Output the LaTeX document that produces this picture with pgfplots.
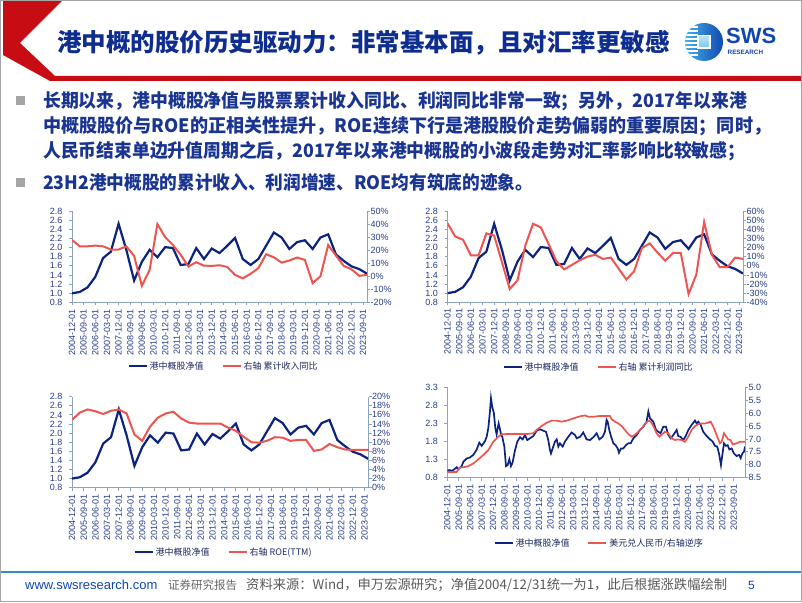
\documentclass[border=0pt]{standalone}
\usepackage{fontspec}
\setmainfont{Liberation Sans}
\newfontfamily\cjk{Noto Sans CJK SC}
\usepackage{graphicx}
\usepackage{pgfplots}
\pgfplotsset{compat=1.18}
\usepackage{pgfplotstable}

\definecolor{navy}{RGB}{12,36,128}
\definecolor{lred}{RGB}{238,84,80}
\definecolor{tickblue}{RGB}{40,62,135}
\definecolor{axgray}{RGB}{140,165,190}
\definecolor{titleblue}{RGB}{14,45,145}
\definecolor{textblue}{RGB}{25,52,145}
\definecolor{bandred}{RGB}{200,12,20}
\definecolor{legtext}{RGB}{30,40,95}
\definecolor{logoA}{RGB}{70,180,235}
\definecolor{logoB}{RGB}{15,70,175}
\definecolor{footblue}{RGB}{50,140,200}
\definecolor{bulgray}{RGB}{165,165,165}

\pgfplotstableread{
m nv rev prof roe
0 1.00 27.8 46.5 14.9
6 1.03 23.0 32 16.5
12 1.13 23.0 28.5 17.2
18 1.36 23.5 11.5 16.8
24 1.77 23.0 11.5 16.2
30 1.91 20.5 35.5 16.9
36 2.52 20.5 33 17.2
42 1.95 23.0 4 16.3
48 1.28 15.6 -25.5 11.7
54 1.69 -7.3 -16 10.3
60 1.95 4.9 22 13.4
66 1.79 40.0 46 15.4
72 2.01 30.0 42 16.3
78 1.99 24.0 24 16.7
84 1.62 16.4 5 15.2
90 1.64 7.5 -4 14.3
96 1.99 10.8 1 14.1
102 1.75 8.2 6 14.1
108 1.98 8.0 10 14.1
114 1.88 8.5 12 14.1
120 2.04 7.2 7.5 13.2
126 2.21 1.1 9 12.5
132 1.75 -1.5 -3 11.2
138 1.62 1.9 -15 10.0
144 1.75 6.2 -6 9.9
150 2.04 16.9 19.5 10.3
156 2.33 14.6 24.5 11.1
162 2.22 10.5 14.5 11.0
168 1.97 12.1 5.5 10.3
174 2.12 14.4 14 10.5
180 2.16 12.6 14 10.5
186 1.97 -5.2 -31 8.1
192 2.22 0.0 -9.5 8.4
198 2.29 24.0 48 9.6
204 1.85 15.9 12 8.9
210 1.71 8.0 -1.5 8.4
216 1.59 5.4 -1.5 8.3
222 1.53 0.4 9 8.3
228 1.43 1.1 7.5 8.3
}\semi

\pgfplotstableread{
m v
0 1.00
2 1.01
3.4 0.99
5 1.02
7.3 1.09
8.6 1.03
11.3 1.12
12.6 1.24
15.2 1.33
17.8 1.36
20.4 1.43
23.0 1.57
25.1 1.77
27.0 1.68
29.6 1.81
30.9 1.93
32.2 2.17
33.5 2.63
34.3 3.00
35.3 2.76
36.6 2.58
37.7 2.17
38.7 2.00
40.3 2.30
41.4 2.14
42.1 2.01
43.2 1.93
44.8 1.66
46.1 1.12
47.4 1.15
48.7 1.31
50.0 1.12
51.3 1.22
53.1 1.55
55.0 1.80
57.1 1.92
59.2 1.86
61.0 1.98
62.8 1.84
64.9 1.89
67.5 1.95
70.2 2.10
72.8 2.14
75.4 2.10
77.5 2.07
79.3 1.84
80.6 1.57
81.4 1.47
83.2 1.66
84.6 1.80
85.9 1.86
87.2 1.66
88.5 1.75
90.6 1.66
92.4 1.80
95.0 1.93
97.6 2.05
100.3 1.98
101.6 1.89
104.2 1.93
106.8 2.05
109.4 1.86
112.0 1.84
114.7 1.92
117.3 2.03
119.4 1.86
122.0 1.93
123.8 2.07
125.1 2.40
125.9 2.35
127.2 2.12
128.5 1.95
130.4 1.75
132.2 1.70
133.8 1.61
134.8 1.49
136.4 1.61
138.2 1.61
140.3 1.70
142.1 1.75
144.0 1.75
146.1 1.89
148.7 1.98
151.3 2.12
153.9 2.21
156.5 2.35
157.9 2.63
159.2 2.44
161.8 2.35
163.9 2.12
165.7 2.07
167.5 2.03
169.6 2.21
171.7 2.21
173.6 1.98
175.4 1.89
177.5 1.98
180.1 2.12
181.4 1.95
183.2 1.93
185.3 1.84
187.2 1.95
189.3 2.12
191.9 2.26
194.5 2.38
195.8 2.30
197.1 2.35
199.0 2.26
201.0 2.07
203.7 1.95
206.3 1.86
208.4 1.80
210.2 1.68
212.0 1.66
213.6 1.43
214.9 1.15
216.0 1.43
217.3 1.75
218.8 1.68
220.2 1.70
221.5 1.58
223.3 1.61
225.1 1.47
227.2 1.40
229.1 1.43
230.4 1.34
231.7 1.47
233.0 1.52
233.8 1.66
}\hkdaily

\pgfplotstableread{
m r
0 8.28
7.3 8.28
8.6 8.18
9.9 8.10
12.6 8.10
16.5 8.05
20.4 7.95
24.3 7.79
28.3 7.62
32.2 7.43
36.1 7.11
40.1 6.91
42.7 6.82
46.6 6.81
54.5 6.81
62.3 6.81
67.5 6.78
70.2 6.65
74.1 6.50
78.0 6.37
81.9 6.29
85.9 6.29
89.8 6.33
93.7 6.29
97.6 6.23
101.6 6.16
105.5 6.11
108.1 6.09
110.7 6.14
114.7 6.14
119.9 6.11
125.1 6.11
127.7 6.11
129.1 6.24
131.7 6.33
134.3 6.40
136.9 6.50
139.5 6.65
142.1 6.81
144.8 6.91
147.4 6.84
150.0 6.72
152.6 6.59
155.2 6.42
157.9 6.29
159.7 6.33
161.8 6.50
164.4 6.78
166.5 6.91
168.3 6.84
170.9 6.72
173.6 6.78
176.2 6.98
178.8 7.04
181.4 7.02
184.0 7.04
186.6 7.11
189.3 6.91
191.9 6.65
194.5 6.50
197.1 6.43
199.7 6.40
202.4 6.40
205.0 6.36
206.8 6.33
208.9 6.52
211.5 6.85
214.1 7.17
215.4 7.11
217.3 6.78
218.8 6.89
220.7 7.02
222.5 7.04
224.1 7.21
227.2 7.17
229.8 7.11
233.8 7.11
}\usdcny

\pgfplotsset{
  myax/.style={scale only axis, anchor=south west,
    axis line style={axgray, line width=0.8pt},
    tick style={axgray, line width=0.8pt},
    major tick length=3pt, tick align=outside,
    tick label style={font=\fontsize{9}{9}\selectfont, text=tickblue},
    /pgf/number format/assume math mode=true},
  leftax/.style={myax, axis x line*=bottom, axis y line*=left,
    xtick={0,9,...,225},
    xticklabels={2004-12-01,2005-09-01,2006-06-01,2007-03-01,2007-12-01,2008-09-01,2009-06-01,2010-03-01,2010-12-01,2011-09-01,2012-06-01,2013-03-01,2013-12-01,2014-09-01,2015-06-01,2016-03-01,2016-12-01,2017-09-01,2018-06-01,2019-03-01,2019-12-01,2020-09-01,2021-06-01,2022-03-01,2022-12-01,2023-09-01},
    xticklabel style={rotate=90, anchor=east},
    yticklabel style={xshift=-3pt, /pgf/number format/fixed, /pgf/number format/fixed zerofill, /pgf/number format/precision=1}},
  rightax/.style={myax, axis x line=none, axis y line*=right,
    yticklabel style={xshift=-3pt},
    legend style={draw=none, fill=none, anchor=center, legend columns=2,
      font=\cjk\fontsize{9}{9}\selectfont, text=legtext,
      /tikz/every even column/.append style={column sep=16pt}},
    legend image code/.code={\draw[##1] (0pt,0pt) -- (18pt,0pt);}},
  pct/.style={yticklabel={\pgfmathprintnumber{\tick}\%}},
}

\begin{document}
\begin{tikzpicture}[x=1pt,y=1pt]
\path[use as bounding box, fill=white] (0,0) rectangle (802,602);

% header
\fill[bandred] (3,602) -- (63,602) -- (20,559) -- (55,526) -- (802,526) -- (802,521) -- (50,521) -- (3,547) -- cycle;
\node[anchor=west, inner sep=0, text=titleblue, font=\cjk\bfseries\fontsize{24.5}{24.5}\selectfont] at (57,559) {港中概的股价历史驱动力：非常基本面，且对汇率更敏感};

% logo
\begin{scope}
\clip (704,560) circle (19);
\shade[left color=logoA, right color=logoB] (684,540) rectangle (724,580);
\foreach \yy in {-13,-9,-5,-1,3,7,11,15} \draw[white, line width=1.1pt] (684,560+\yy) -- (698,560+\yy);
\end{scope}
\fill[white] (697,553) rectangle (711,567);
\shade[top color=logoA!40, bottom color=logoA!70] (699,555) rectangle (709,565);
\node[anchor=west, inner sep=0, text=logoB, font=\bfseries\fontsize{22}{22}\selectfont] at (726,566) {SWS};
\node[anchor=west, inner sep=0, text=logoB, font=\bfseries\fontsize{6.3}{6.3}\selectfont] at (727.5,549.5) {RESEARCH};

% bullets
\fill[bulgray] (15.5,496.5) rectangle (24.5,505.5);
\fill[bulgray] (15.5,414.5) rectangle (24.5,423.5);
\begin{scope}[every node/.style={anchor=west, inner sep=0, text=textblue, font=\cjk\bfseries\fontsize{18.5}{18.5}\selectfont}]
\node at (43,501) {\resizebox{704pt}{\height}{长期以来，港中概股净值与股票累计收入同比、利润同比非常一致；另外，2017年以来港}};
\node at (43,476) {\resizebox{728pt}{\height}{中概股股价与ROE的正相关性提升，ROE连续下行是港股股价走势偏弱的重要原因；同时，}};
\node at (43,451) {\resizebox{702pt}{\height}{人民币结束单边升值周期之后，2017年以来港中概股的小波段走势对汇率影响比较敏感；}};
\node at (43,420) {\resizebox{490pt}{\height}{23H2港中概股的累计收入、利润增速、ROE均有筑底的迹象。}};
\end{scope}

% chart 1
\begin{axis}[leftax, at={(72pt,299.5pt)}, width=295pt, height=91.5pt,
  xmin=0, xmax=228, ymin=0.8, ymax=2.8, ytick={0.8,1,1.2,1.4,1.6,1.8,2,2.2,2.4,2.6,2.8}]
\addplot[navy, line width=2.2pt] table[x=m, y=nv] {\semi};
\end{axis}
\begin{axis}[rightax, pct, at={(72pt,299.5pt)}, width=295pt, height=91.5pt,
  xmin=0, xmax=228, ymin=-20, ymax=50, ytick={-20,-10,0,10,20,30,40,50},
  legend style={at={(0.514,-0.694)}}]
\addlegendimage{navy, line width=2.2pt}
\addlegendentry{港中概股净值}
\addplot[lred, line width=2pt] table[x=m, y=rev] {\semi};
\addlegendentry{右轴\ 累计收入同比}
\end{axis}

% chart 2
\begin{axis}[leftax, at={(447.5pt,299.7pt)}, width=295.5pt, height=91.3pt,
  xmin=0, xmax=228, ymin=0.8, ymax=2.8, ytick={0.8,1,1.2,1.4,1.6,1.8,2,2.2,2.4,2.6,2.8}]
\addplot[navy, line width=2.2pt] table[x=m, y=nv] {\semi};
\end{axis}
\begin{axis}[rightax, pct, at={(447.5pt,299.7pt)}, width=295.5pt, height=91.3pt,
  xmin=0, xmax=228, ymin=-40, ymax=60, ytick={-40,-30,-20,-10,0,10,20,30,40,50,60},
  legend style={at={(0.511,-0.709)}}]
\addlegendimage{navy, line width=2.2pt}
\addlegendentry{港中概股净值}
\addplot[lred, line width=2pt] table[x=m, y=prof] {\semi};
\addlegendentry{右轴\ 累计利润同比}
\end{axis}

% chart 3
\begin{axis}[leftax, at={(72pt,114.3pt)}, width=296.5pt, height=91pt,
  xmin=0, xmax=228, ymin=0.8, ymax=2.8, ytick={0.8,1,1.2,1.4,1.6,1.8,2,2.2,2.4,2.6,2.8}]
\addplot[navy, line width=2.2pt] table[x=m, y=nv] {\semi};
\end{axis}
\begin{axis}[rightax, pct, at={(72pt,114.3pt)}, width=296.5pt, height=91pt,
  xmin=0, xmax=228, ymin=0, ymax=20, ytick={0,2,4,6,8,10,12,14,16,18,20},
  legend style={at={(0.511,-0.707)}}]
\addlegendimage{navy, line width=2.2pt}
\addlegendentry{港中概股净值}
\addplot[lred, line width=2pt] table[x=m, y=roe] {\semi};
\addlegendentry{右轴\ ROE(TTM)}
\end{axis}

% chart 4
\begin{axis}[leftax, at={(447.3pt,124.3pt)}, width=297.7pt, height=90.4pt,
  xmin=0, xmax=233.8, ymin=0.8, ymax=3.3, ytick={0.8,1.3,1.8,2.3,2.8,3.3}]
\addplot[navy, line width=1.7pt] table[x=m, y=v] {\hkdaily};
\end{axis}
\begin{axis}[rightax, at={(447.3pt,124.3pt)}, width=297.7pt, height=90.4pt,
  xmin=0, xmax=233.8, ymin=5, ymax=8.5, y dir=reverse,
  ytick={5,5.5,6,6.5,7,7.5,8,8.5},
  yticklabel style={/pgf/number format/fixed, /pgf/number format/fixed zerofill, /pgf/number format/precision=1},
  legend style={at={(0.510,-0.722)}}]
\addlegendimage{navy, line width=2.2pt}
\addlegendentry{港中概股净值}
\addplot[lred, line width=1.7pt] table[x=m, y=r] {\usdcny};
\addlegendentry{美元兑人民币/右轴逆序}
\end{axis}

% footer
\draw[footblue, line width=1.5pt] (0,30) -- (802,30);
\node[anchor=west, inner sep=0, text=logoB, font=\fontsize{13}{13}\selectfont] at (25,17) {www.swsresearch.com};
\node[anchor=west, inner sep=0, text=black!60, font=\cjk\fontsize{11.5}{11.5}\selectfont] at (168,17) {证券研究报告};
\node[anchor=west, inner sep=0, text=black!65, font=\cjk\fontsize{13.3}{13.3}\selectfont] at (246,17) {资料来源：Wind，申万宏源研究；净值2004/12/31统一为1，此后根据涨跌幅绘制};
\node[anchor=west, inner sep=0, text=logoB, font=\fontsize{12}{12}\selectfont] at (748,17) {5};
\draw[black!35, line width=0.8pt] (0.4,0.4) rectangle (801.6,601.6);
\end{tikzpicture}
\end{document}
